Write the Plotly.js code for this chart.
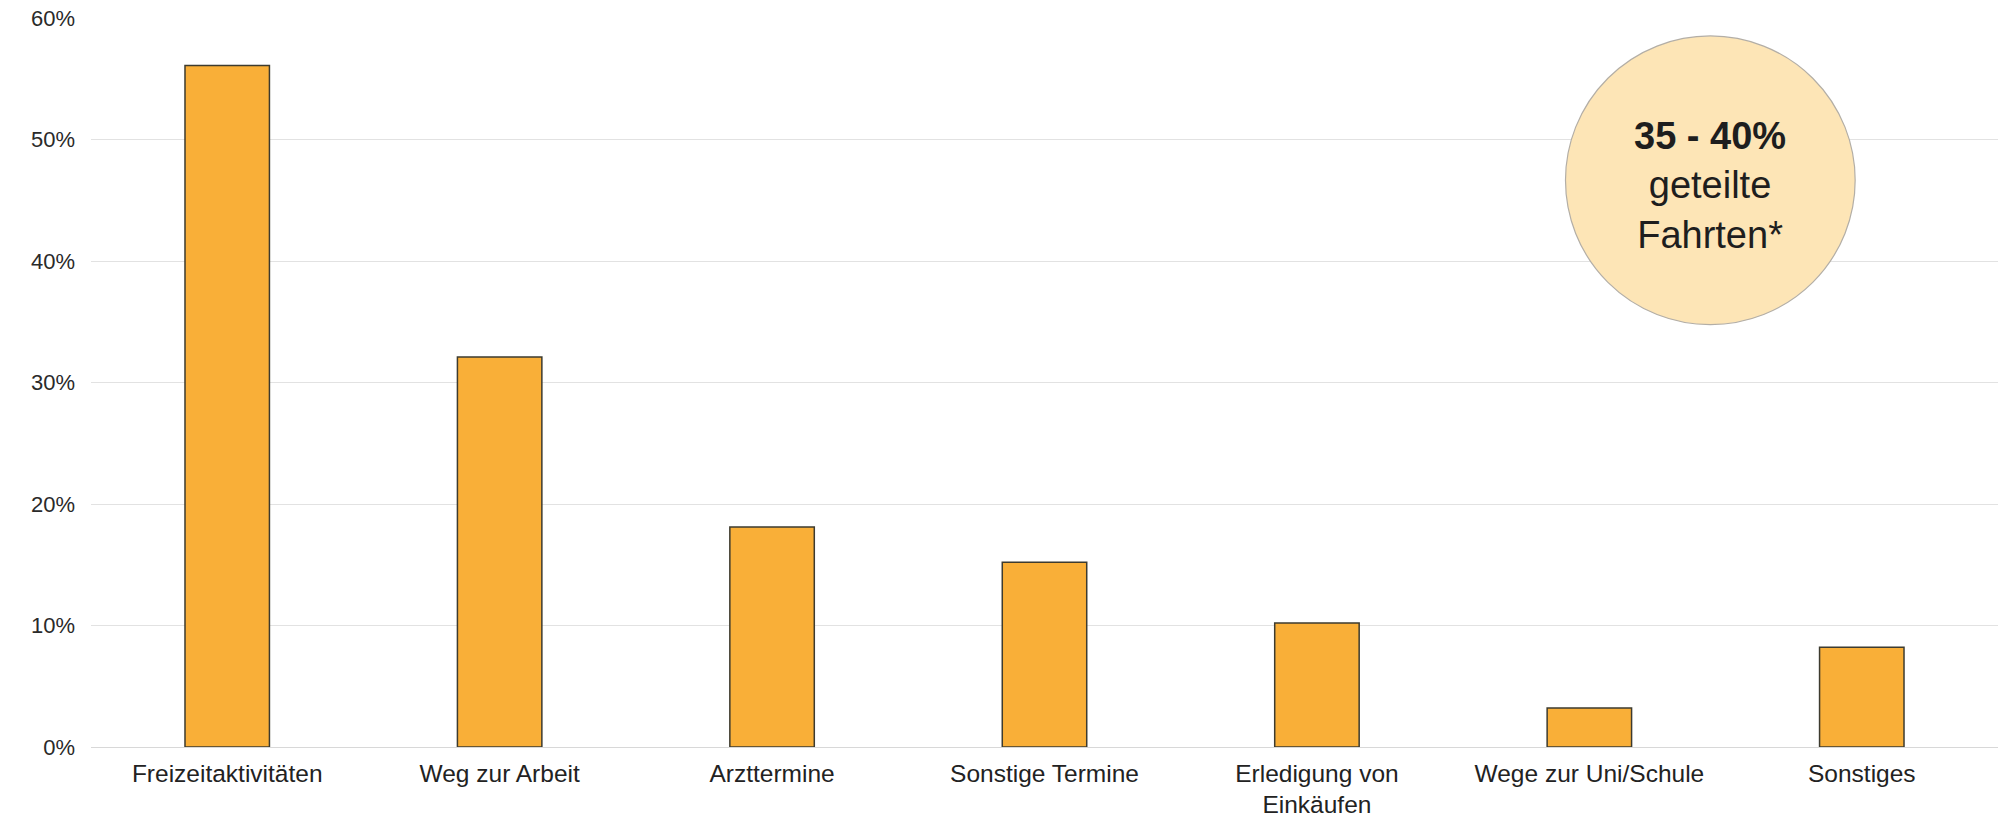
<!DOCTYPE html>
<html>
<head>
<meta charset="utf-8">
<script src="https://cdn.plot.ly/plotly-3.0.1.min.js"></script>
<style>html,body{margin:0;padding:0;background:#fff;}#chart{width:1998px;height:823px;}</style>
</head>
<body>
<div id="chart"></div>
<script>
const categories = ["Freizeitaktivitäten", "Weg zur Arbeit", "Arzttermine", "Sonstige Termine", "Erledigung von<br>Einkäufen", "Wege zur Uni/Schule", "Sonstiges"];
const shares = [56.1, 32.1, 18.1, 15.2, 10.2, 3.2, 8.2];
const yTickValues = [0, 10, 20, 30, 40, 50, 60];
const yTickLabels = ["0%", "10%", "20%", "30%", "40%", "50%", "60%"];
const bubbleText = "<b>35 - 40%</b><br>geteilte<br>Fahrten*";

const trace = {
  type: "bar",
  x: categories,
  y: shares,
  marker: {color: "#F9AF38", line: {color: "#3d3b2f", width: 1.5}},
  hoverinfo: "skip"
};

const layout = {
  width: 1998, height: 823,
  margin: {l: 91, r: 0, t: 18, b: 76},
  paper_bgcolor: "#ffffff", plot_bgcolor: "#ffffff",
  showlegend: false,
  bargap: 0.69,
  font: {family: "Liberation Sans, Arial, sans-serif", color: "#2a2a2a"},
  xaxis: {
    showgrid: false, showline: false, zeroline: false, ticks: "",
    tickfont: {size: 24.5, color: "#222"},
    ticklabelstandoff: 9,
    fixedrange: true
  },
  yaxis: {
    range: [0, 60], tickvals: yTickValues, ticktext: yTickLabels,
    showgrid: true, gridcolor: "#e2e2e2", gridwidth: 1,
    zeroline: true, zerolinecolor: "#d8d8d8", zerolinewidth: 1,
    showline: false, ticks: "",
    tickfont: {size: 22, color: "#2a2a2a"},
    ticklabelstandoff: 15,
    fixedrange: true
  },
  shapes: [{
    type: "circle", xref: "paper", yref: "paper",
    x0: 0.7732, x1: 0.9251, y0: 0.5794, y1: 0.9754,
    fillcolor: "#FDE5B6", line: {color: "#b3aea6", width: 1.2},
    layer: "above"
  }],
  annotations: [{
    xref: "paper", yref: "paper", x: 0.8492, y: 0.770,
    xanchor: "center", yanchor: "middle", showarrow: false,
    text: bubbleText, align: "center",
    font: {size: 38, color: "#1e1e1e", family: "Liberation Sans, Arial, sans-serif"}
  }]
};

Plotly.newPlot("chart", [trace], layout, {displayModeBar: false, staticPlot: true});
</script>
</body>
</html>
